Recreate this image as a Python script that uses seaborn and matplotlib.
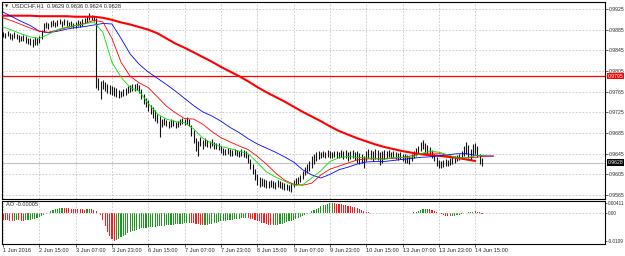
import numpy as np
import matplotlib
matplotlib.use("Agg")
import matplotlib.pyplot as plt
import matplotlib.transforms as mtransforms
import seaborn as sns

# USDCHF H1 bars, prices in 1e-4 units (pips)
bar_high = [9881, 9879, 9882, 9878, 9876, 9880, 9877, 9874, 9873, 9875, 9872,
            9869, 9868, 9866, 9870, 9868, 9872, 9885, 9898, 9900, 9897,
            9902, 9904, 9900, 9903, 9906, 9902, 9905, 9903, 9900, 9902,
            9898, 9900, 9903, 9901, 9905, 9908, 9912, 9917, 9914, 9912,
            9908, 9792, 9785, 9788, 9784, 9780, 9778, 9776, 9774, 9772,
            9768, 9766, 9770, 9772, 9776, 9778, 9780, 9779, 9781, 9778,
            9770, 9760, 9752, 9748, 9740, 9735, 9730, 9722, 9718, 9712,
            9714, 9710, 9708, 9712, 9710, 9707, 9709, 9712, 9715, 9713,
            9716, 9712, 9700, 9690, 9675, 9670, 9678, 9672, 9676, 9672,
            9670, 9673, 9668, 9666, 9665, 9660, 9657, 9655, 9656, 9654,
            9652, 9655, 9653, 9650, 9654, 9652, 9650, 9645, 9635, 9625,
            9615, 9605, 9600, 9598, 9596, 9594, 9592, 9595, 9593, 9590,
            9594, 9592, 9590, 9588, 9586, 9585, 9588, 9594, 9598, 9600,
            9604, 9612, 9620, 9625, 9630, 9640, 9645, 9648, 9650, 9648,
            9651, 9649, 9652, 9650, 9648, 9651, 9650, 9649, 9652, 9650,
            9653, 9648, 9650, 9652, 9649, 9650, 9647, 9645, 9640, 9650,
            9655, 9652, 9650, 9654, 9652, 9648, 9650, 9653, 9650, 9652,
            9649, 9651, 9648, 9646, 9649, 9645, 9644, 9642, 9640, 9645,
            9650, 9656, 9660, 9668, 9672, 9665, 9662, 9658, 9652, 9645,
            9638, 9632, 9630, 9632, 9634, 9633, 9636, 9638, 9640, 9642,
            9645, 9650, 9660, 9667, 9662, 9655, 9663, 9665, 9660, 9645, 9636]
bar_low = [9870, 9868, 9872, 9866, 9865, 9868, 9866, 9862, 9863, 9864, 9860,
           9857, 9855, 9852, 9856, 9855, 9860, 9866, 9880, 9888, 9886,
           9890, 9893, 9890, 9892, 9895, 9891, 9894, 9892, 9890, 9891,
           9888, 9889, 9892, 9890, 9893, 9897, 9900, 9904, 9903, 9901,
           9772, 9768, 9750, 9770, 9766, 9762, 9760, 9758, 9756, 9755,
           9752, 9754, 9756, 9758, 9762, 9765, 9767, 9766, 9768, 9763,
           9750, 9742, 9735, 9728, 9722, 9715, 9708, 9705, 9678, 9696,
           9700, 9698, 9695, 9697, 9699, 9694, 9696, 9700, 9702, 9700,
           9703, 9698, 9680, 9665, 9650, 9640, 9660, 9655, 9660, 9658,
           9657, 9660, 9655, 9654, 9652, 9646, 9643, 9642, 9644, 9641,
           9640, 9642, 9641, 9638, 9640, 9639, 9637, 9628, 9615, 9605,
           9595, 9585, 9580, 9582, 9580, 9578, 9579, 9581, 9578, 9577,
           9580, 9578, 9576, 9575, 9574, 9572, 9571, 9580, 9584, 9587,
           9590, 9596, 9603, 9608, 9612, 9618, 9625, 9630, 9634, 9636,
           9638, 9637, 9639, 9637, 9636, 9638, 9637, 9636, 9638, 9635,
           9637, 9630, 9634, 9636, 9632, 9628, 9625, 9627, 9617, 9630,
           9636, 9634, 9630, 9635, 9633, 9624, 9628, 9635, 9637, 9638,
           9636, 9638, 9635, 9633, 9634, 9630, 9628, 9627, 9625, 9630,
           9636, 9640, 9645, 9650, 9655, 9648, 9645, 9640, 9636, 9630,
           9622, 9618, 9618, 9620, 9621, 9622, 9623, 9625, 9627, 9630,
           9632, 9635, 9640, 9645, 9636, 9633, 9640, 9645, 9638, 9625, 9622]

# moving averages read every 4 bars (pips)
ma_step = 4
ma_slow = [9912, 9912, 9912, 9912, 9911, 9911, 9911, 9911, 9910, 9910, 9910,
           9908, 9904, 9899, 9895, 9890, 9885, 9878, 9868, 9858, 9850, 9841,
           9832, 9823, 9813, 9804, 9795, 9785, 9774, 9764, 9755, 9746, 9736,
           9726, 9717, 9708, 9698, 9689, 9682, 9675, 9669, 9663, 9658, 9654,
           9650, 9647, 9644, 9642, 9641, 9639, 9637, 9634, 9631]
jaw = [9919, 9910, 9901, 9893, 9882, 9879, 9882, 9886, 9889, 9891, 9894,
       9897, 9896, 9868, 9838, 9818, 9803, 9791, 9779, 9766, 9752, 9738,
       9726, 9718, 9708, 9696, 9686, 9674, 9664, 9656, 9648, 9639, 9629,
       9614, 9604, 9598, 9605, 9614, 9619, 9625, 9629, 9630, 9630, 9632,
       9634, 9636, 9638, 9639, 9641, 9643, 9645, 9645, 9642, 9641, 9640]
teeth = [9908, 9902, 9895, 9888, 9882, 9880, 9884, 9889, 9893, 9897, 9903,
         9900, 9868, 9822, 9795, 9782, 9773, 9755, 9737, 9724, 9713, 9712,
         9702, 9688, 9676, 9668, 9660, 9653, 9640, 9625, 9608, 9594, 9586,
         9584, 9588, 9604, 9615, 9621, 9627, 9633, 9635, 9635, 9635, 9636,
         9638, 9641, 9645, 9646, 9646, 9641, 9637, 9637, 9638, 9640, 9641]
lips = [9890, 9884, 9877, 9871, 9868, 9876, 9885, 9890, 9893, 9896, 9900,
        9880, 9822, 9793, 9773, 9766, 9742, 9722, 9712, 9707, 9705, 9693,
        9675, 9665, 9659, 9655, 9650, 9645, 9628, 9610, 9600, 9592, 9584,
        9585, 9598, 9612, 9630, 9637, 9640, 9638, 9637, 9636, 9634, 9638,
        9638, 9638, 9645, 9650, 9648, 9643, 9637, 9637, 9641, 9642]

# Awesome Oscillator, 1e-4 units
ao = [-25, -27, -28, -29, -30, -29, -28, -28, -29, -29, -28,
      -27, -26, -24, -22, -18, -14, -10, -6, -2, 3,
      8, 12, 16, 19, 21, 22, 21, 20, 20, 19,
      18, 17, 17, 16, 16, 15, 16, 17, 17, 15,
      10, 2, -8, -27, -50, -72, -88, -101, -109, -106,
      -101, -95, -89, -84, -79, -75, -71, -68, -65, -62,
      -59, -57, -56, -55, -54, -53, -52, -51, -50, -49,
      -48, -47, -46, -45, -44, -43, -42, -41, -40, -38,
      -37, -36, -37, -39, -41, -43, -45, -47, -46, -44,
      -42, -40, -38, -36, -34, -32, -30, -29, -27, -26,
      -25, -23, -22, -21, -20, -19, -18, -19, -21, -23,
      -26, -29, -32, -36, -39, -42, -45, -46, -47, -46,
      -44, -42, -40, -38, -35, -32, -29, -26, -22, -18,
      -14, -9, -5, -1, 3, 8, 13, 18, 23, 28,
      32, 35, 38, 40, 41, 40, 39, 38, 37, 35,
      33, 31, 29, 27, 24, 21, 18, 14, 10, 7,
      4, 3, 2, 1, 1, 1, 0, 1, 1, 0,
      1, 1, 0, 1, 2, 3, 3, 3, 2, 3,
      4, 5, 8, 12, 16, 18, 19, 17, 13, 9,
      5, 1, -3, -6, -9, -11, -12, -11, -9, -7,
      -5, -3, -1, 2, 4, 6, 7, 8, 6, 4, -0.5]

price_ticks = [0.9925, 0.9885, 0.9845, 0.9805, 0.9765, 0.9725, 0.9685, 0.9645, 0.9605, 0.9565]
ao_ticks = [0.00411, 0.0, -0.0109]
ao_tick_labels = ["0.00411", "0.00", "-0.0109"]
level_line = 0.9795
last_price = 0.9628
date_labels = ["1 Jun 2016", "2 Jun 15:00", "3 Jun 07:00", "3 Jun 23:00", "6 Jun 15:00",
               "7 Jun 07:00", "7 Jun 23:00", "8 Jun 15:00", "9 Jun 07:00", "9 Jun 23:00",
               "10 Jun 15:00", "13 Jun 07:00", "13 Jun 23:00", "14 Jun 15:00"]
bars_per_label = 16

sns.set_style("white")
plt.rcParams['font.family'] = ['Liberation Sans', 'DejaVu Sans']

W, H = 625, 256
fig = plt.figure(figsize=(W / 100, H / 100), dpi=100)


def px_axes(x0, y0, x1, y1, **kw):
    return fig.add_axes([x0 / W, 1 - y1 / H, (x1 - x0) / W, (y1 - y0) / H], **kw)


ax = px_axes(2, 2, 605, 199)
ax_ao = px_axes(2, 201, 605, 244, sharex=ax)

hi = np.array(bar_high) / 10000
lo = np.array(bar_low) / 10000
bars = np.arange(len(hi))
fs = 4.1    # texts inside the panels
fs_y = 3.7  # price scale on the right
fs_ao = 3.4
grid_kw = dict(color='#c4c4c4', ls=(0, (2, 2)), lw=0.6)

# price panel
ax.axhline(last_price, color='#c0c0c0', lw=0.8, zorder=1)
ax.axhline(level_line, color='red', lw=0.9, zorder=2)
ax.vlines(bars, lo, hi, color='#111111', lw=0.8, zorder=3)

lines = [(ma_slow, 'red', 1.5), (jaw, '#0000ff', 0.6), (teeth, '#ff0000', 0.6), (lips, '#00e000', 0.6)]
for vals, col, lw in lines:
    xs = np.arange(len(vals)) * ma_step
    sns.lineplot(x=xs, y=np.array(vals) / 10000, ax=ax, color=col, lw=lw,
                 estimator=None, sort=False, legend=False, zorder=4)

date_ticks = np.arange(len(date_labels)) * bars_per_label
ax.set_xlim(-0.44, -0.44 + 603 / 2.27)
ax.set_ylim(0.95574, 0.99385)
ax.set_yticks(price_ticks)
ax.set_yticklabels([f"{p:.4f}" for p in price_ticks])
ax.set_xticks(date_ticks)
ax.yaxis.tick_right()
ax.tick_params(axis='y', labelsize=fs_y, length=2, width=0.5, pad=0.8, right=True)
ax.tick_params(axis='x', labelbottom=False, length=0)
ax.grid(True, **grid_kw)
ax.set_xlabel("")
ax.set_ylabel("")

trans = mtransforms.blended_transform_factory(ax.transAxes, ax.transData)
ax.text(1.0045, level_line, f"{level_line:.4f}", transform=trans, fontsize=fs_y, color='white',
        va='center', ha='left', bbox=dict(boxstyle='square,pad=0.12', fc='red', ec='none'))
ax.text(1.0045, last_price, f"{last_price:.4f}", transform=trans, fontsize=fs_y, color='white',
        va='center', ha='left', bbox=dict(boxstyle='square,pad=0.12', fc='black', ec='none'))

# AO panel
ao_v = np.array(ao) / 10000
rising = np.diff(ao_v, prepend=ao_v[0]) > 0
ao_col = np.where(rising, '#1a9a1a', '#ff1a1a')
ax_ao.bar(bars, ao_v, width=0.5, color=ao_col, lw=0)
ax_ao.axhline(0, **grid_kw)
ax_ao.set_ylim(-0.0121, 0.0049)
ax_ao.set_yticks(ao_ticks)
ax_ao.set_yticklabels(ao_tick_labels)
ax_ao.yaxis.tick_right()
ax_ao.tick_params(axis='y', labelsize=fs_ao, length=1.5, width=0.5, pad=0.6, right=True)
ax_ao.set_xticks(date_ticks)
ax_ao.set_xticklabels(date_labels, ha='left')
ax_ao.tick_params(axis='x', labelsize=fs, length=2, width=0.5, pad=1, bottom=True)
ax_ao.grid(True, axis='x', **grid_kw)

for a in (ax, ax_ao):
    for s in a.spines.values():
        s.set_color('black')
        s.set_linewidth(0.8)

fig.text(5 / W, 1 - 6 / H, "\u25bc", fontsize=3, va='center', family='DejaVu Sans')
fig.text(12 / W, 1 - 6 / H, "USDCHF,H1  0.9629 0.9636 0.9624 0.9628", fontsize=fs, va='center')
fig.text(6 / W, 1 - 205 / H, "AO -0.00005", fontsize=fs, va='center')

fig.savefig("out.png", dpi=100)
